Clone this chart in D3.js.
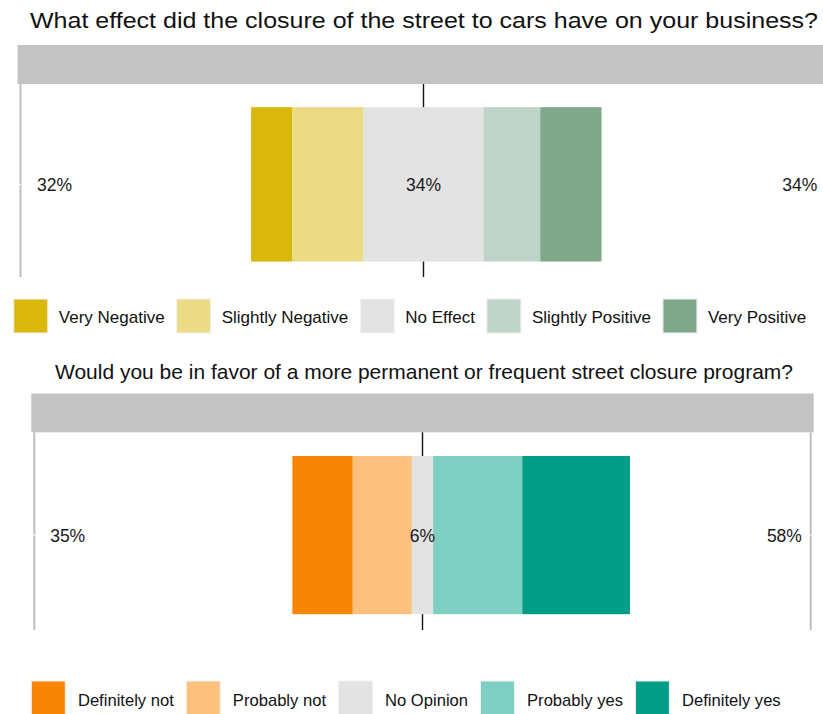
<!DOCTYPE html>
<html>
<head>
<meta charset="utf-8">
<script src="https://cdn.jsdelivr.net/npm/d3@7"></script>
<style>
  html, body { margin: 0; padding: 0; background: #fff; }
  svg { display: block; font-family: "Liberation Sans", Arial, sans-serif; }
</style>
</head>
<body>
<svg id="chart" width="823" height="714"></svg>
<script>
// Survey responses, percent of respondents per answer (low -> neutral -> high)
const effectTitle = "What effect did the closure of the street to cars have on your business?";
const effectCategories = ["Very Negative", "Slightly Negative", "No Effect", "Slightly Positive", "Very Positive"];
const effectValues = [11.8, 20.3, 34.2, 16.2, 17.5];
const effectColors = ["#DAB70B", "#EADB84", "#E3E3E3", "#BFD4C8", "#80A88B"];

const favorTitle = "Would you be in favor of a more permanent or frequent street closure program?";
const favorCategories = ["Definitely not", "Probably not", "No Opinion", "Probably yes", "Definitely yes"];
const favorValues = [17.9, 17.5, 6.3, 26.4, 31.9];
const favorColors = ["#F88503", "#FCC07F", "#E3E3E3", "#80CFC3", "#009E87"];

const percentDomain = [-115, 115];

const svg = d3.select("#chart");

function drawLikert(opts) {
  const { title, categories, values, colors, layout } = opts;
  const g = svg.append("g");

  // Title
  g.append("text")
    .attr("x", layout.titleX)
    .attr("y", layout.titleY)
    .attr("text-anchor", "middle")
    .attr("font-size", layout.titleSize)
    .attr("textLength", layout.titleWidth)
    .attr("lengthAdjust", "spacingAndGlyphs")
    .attr("fill", "#111")
    .text(title);

  const x = d3.scaleLinear().domain(percentDomain).range(layout.xRange);
  const y = d3.scaleBand()
    .domain(["item"])
    .range([layout.panelTop, layout.panelBottom])
    .paddingInner(0)
    .paddingOuter(0.125)
    .align(0.6);

  // Facet strip
  g.append("rect")
    .attr("x", layout.xRange[0] - 3)
    .attr("y", layout.stripTop)
    .attr("width", layout.xRange[1] - layout.xRange[0] + 6)
    .attr("height", layout.panelTop - layout.stripTop)
    .attr("fill", "#C3C3C3");

  // Centre reference line at 0
  g.append("line")
    .attr("x1", x(0)).attr("x2", x(0))
    .attr("y1", layout.panelTop).attr("y2", layout.panelBottom)
    .attr("stroke", "#111").attr("stroke-width", 1.4);

  // Stacked segments, neutral answer centred on zero
  const neutralIndex = Math.floor(values.length / 2);
  const lowSum = d3.sum(values.slice(0, neutralIndex));
  let cursor = -(lowSum + values[neutralIndex] / 2);
  const segments = values.map((v, i) => {
    const s = { start: cursor, end: cursor + v, color: colors[i], name: categories[i] };
    cursor += v;
    return s;
  });

  g.selectAll("rect.seg")
    .data(segments)
    .join("rect")
    .attr("class", "seg")
    .attr("x", d => x(d.start))
    .attr("width", d => x(d.end) - x(d.start))
    .attr("y", y("item"))
    .attr("height", y.bandwidth())
    .attr("fill", d => d.color);

  // Axis lines with white ticks at the item
  const yc = y("item") + y.bandwidth() / 2;
  layout.axisSides.forEach(side => {
    const ax = side === "left" ? layout.xRange[0] : layout.xRange[1];
    g.append("line")
      .attr("x1", ax).attr("x2", ax)
      .attr("y1", layout.panelTop).attr("y2", layout.panelBottom)
      .attr("stroke", "#BEBEBE").attr("stroke-width", 2);
    const dir = side === "left" ? -1 : 1;
    g.append("line")
      .attr("x1", ax - dir * 1).attr("x2", ax + dir * 3)
      .attr("y1", yc).attr("y2", yc)
      .attr("stroke", "#fff").attr("stroke-width", 1);
  });

  // Percent labels: low total, neutral, high total
  const highSum = d3.sum(values.slice(neutralIndex + 1));
  const fmt = v => Math.round(v) + "%";
  const labels = [
    { x: x(-110.3), anchor: "start", text: fmt(lowSum) },
    { x: x(0), anchor: "middle", text: fmt(values[neutralIndex]) },
    { x: x(112.4), anchor: "end", text: fmt(highSum) }
  ];
  g.selectAll("text.pct")
    .data(labels)
    .join("text")
    .attr("class", "pct")
    .attr("x", d => d.x)
    .attr("y", yc + 1)
    .attr("dy", "0.35em")
    .attr("text-anchor", d => d.anchor)
    .attr("font-size", 17.5)
    .attr("fill", "#1a1a1a")
    .text(d => d.text);

  // Legend, laid out left to right and centred
  const lg = g.append("g");
  const items = lg.selectAll("g.item")
    .data(categories.map((c, i) => ({ name: c, color: colors[i] })))
    .join("g").attr("class", "item");
  items.append("rect")
    .attr("width", 34).attr("height", 34)
    .attr("fill", d => d.color)
    .attr("stroke", "#F2F2F2").attr("stroke-width", 1);
  items.append("text")
    .attr("x", 34 + layout.keyGap)
    .attr("y", 17 + layout.legendTextShift)
    .attr("dy", "0.35em")
    .attr("font-size", layout.legendSize)
    .attr("fill", "#111")
    .text(d => d.name);
  let lx = 0;
  items.each(function () {
    const w = 34 + layout.keyGap + d3.select(this).select("text").node().getComputedTextLength();
    d3.select(this).attr("transform", `translate(${lx},0)`);
    lx += w + layout.itemGap;
  });
  const total = lx - layout.itemGap;
  lg.attr("transform", `translate(${layout.legendCenter - total / 2},${layout.legendTop})`);
}

drawLikert({
  title: effectTitle,
  categories: effectCategories,
  values: effectValues,
  colors: effectColors,
  layout: {
    titleX: 424, titleY: 28, titleSize: 22, titleWidth: 788,
    xRange: [20.5, 826.5],
    stripTop: 45, panelTop: 84, panelBottom: 277,
    axisSides: ["left"],
    legendTop: 299, legendCenter: 410, legendSize: 17, keyGap: 11, itemGap: 12, legendTextShift: 1
  }
});

drawLikert({
  title: favorTitle,
  categories: favorCategories,
  values: favorValues,
  colors: favorColors,
  layout: {
    titleX: 424, titleY: 379, titleSize: 21, titleWidth: 738,
    xRange: [34.3, 810.7],
    stripTop: 393.5, panelTop: 432.3, panelBottom: 630,
    axisSides: ["left", "right"],
    legendTop: 681, legendCenter: 406, legendSize: 16.6, keyGap: 12.6, itemGap: 12.4, legendTextShift: 2
  }
});
</script>
</body>
</html>
